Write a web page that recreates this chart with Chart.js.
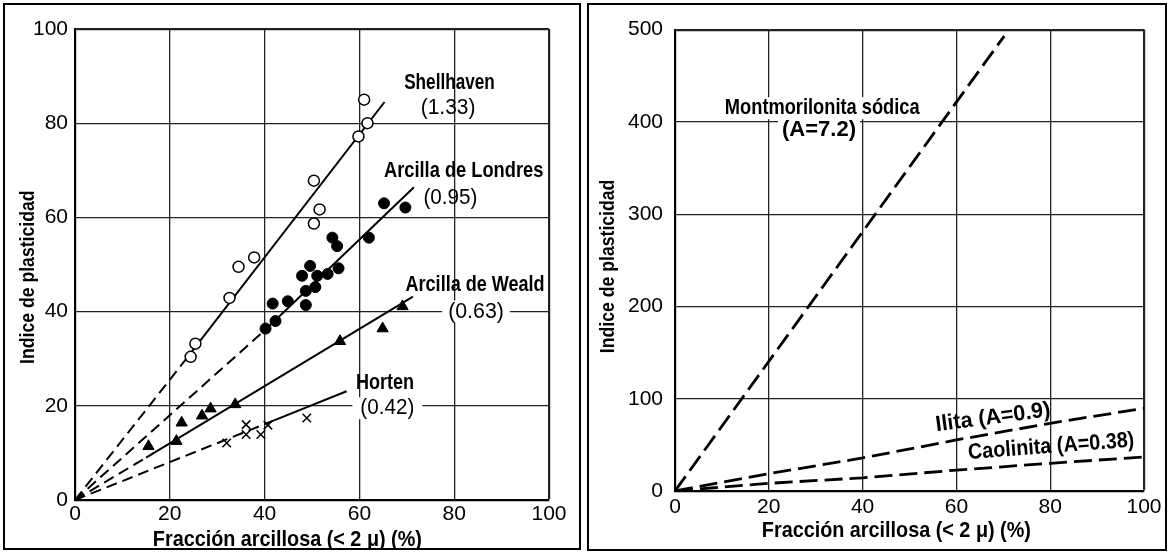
<!DOCTYPE html>
<html lang="es">
<head>
<meta charset="UTF-8">
<title>Indice de plasticidad - Fracción arcillosa</title>
<script src="https://cdn.jsdelivr.net/npm/chart.js"></script>
<style>
  body { margin: 0; background: #fff; width: 1170px; height: 553px; position: relative; overflow: hidden; }
  .panel { position: absolute; border: 2px solid #000; background: #fff; }
  #left { left: 3px; top: 3px; width: 574px; height: 543px; }
  #right { left: 587px; top: 3px; width: 576px; height: 544px; }
  canvas { display: block; }
</style>
</head>
<body>
<div class="panel" id="left"><canvas id="leftChart" width="574" height="543"></canvas></div>
<div class="panel" id="right"><canvas id="rightChart" width="576" height="544"></canvas></div>
<script>
// ---- data ----
const xTicks = [0, 20, 40, 60, 80, 100];
const yTicksLeft = [0, 20, 40, 60, 80, 100];
const yTicksRight = [0, 100, 200, 300, 400, 500];

// Shellhaven (open circles)
const shellX = [24.4, 25.4, 32.6, 34.5, 37.8, 50.4, 50.4, 51.6, 59.8, 61.7, 61.0];
const shellY = [30.4, 33.2, 42.9, 49.5, 51.5, 67.8, 58.7, 61.7, 77.2, 80.0, 85.0];
// Arcilla de Londres (filled circles)
const londresX = [40.2, 42.3, 41.7, 44.9, 47.9, 49.6, 48.7, 48.7, 50.7, 51.1, 53.3, 54.3, 55.3, 55.6, 62.0, 65.2, 69.7];
const londresY = [36.4, 38.0, 41.7, 42.2, 47.6, 49.7, 44.4, 41.4, 45.2, 47.6, 48.0, 55.7, 53.9, 49.2, 55.7, 63.0, 62.1];
// Arcilla de Weald (triangles)
const wealdX = [15.5, 21.4, 22.5, 26.8, 28.6, 33.8, 55.9, 64.9, 69.1];
const wealdY = [11.4, 12.5, 16.4, 17.9, 19.4, 20.3, 33.7, 36.4, 41.1];
// Horten (crosses)
const hortenX = [32.0, 36.1, 36.1, 39.2, 40.7, 48.9];
const hortenY = [12.1, 16.0, 13.9, 13.9, 15.9, 17.4];

// trend lines: dashed part near the origin, solid part over the data
const shellDashX = [0, 23.5], shellDashY = [0, 30];
const shellLineX = [23.5, 65.3], shellLineY = [30, 84.5];
const londresDashX = [0, 40], londresDashY = [0, 36];
const londresLineX = [40, 71.5], londresLineY = [36, 66.4];
const wealdDashX = [0, 15], wealdDashY = [0, 9];
const wealdLineX = [15, 71.3], wealdLineY = [9, 43.2];
const hortenDashX = [0, 42], hortenDashY = [0, 16.9];
const hortenLineX = [42, 57.3], hortenLineY = [16.9, 23.1];

// right panel minerals
const montX = [0, 70.2], montY = [0, 493];
const ilitaX = [0, 20, 40, 60, 80, 100], ilitaY = [0, 18.8, 35.8, 55.3, 73.4, 89.6];
const caolX = [0, 20, 40, 60, 80, 100], caolY = [0, 8.3, 14.3, 22.6, 30, 36.9];

const pts = (xs, ys) => xs.map((v, i) => ({x: v, y: ys[i]}));

const family = '"Liberation Sans", Arial, sans-serif';
const fontOf = l => (l.bold === false ? '' : 'bold ') + (l.size || 22) + 'px ' + family;

// text squeezed horizontally to imitate the condensed typeface of the figure
function squeezedText(ctx, l, px, py, rot) {
  ctx.save();
  ctx.font = fontOf(l);
  ctx.translate(px, py);
  if (rot) ctx.rotate(rot);
  ctx.scale(l.sq || 1, 1);
  ctx.fillText(l.text, 0, 0);
  ctx.restore();
}

// draws the free text labels and axis titles
const textPlugin = {
  id: 'texts',
  beforeDatasetsDraw(chart, args, opts) {
    const {ctx, scales: {x, y}} = chart;
    ctx.save();
    opts.labels.forEach(l => {
      if (!l.gap) return;
      ctx.font = fontOf(l);
      const w = ctx.measureText(l.text).width * (l.sq || 1);
      const px = x.getPixelForValue(l.x), py = y.getPixelForValue(l.y);
      ctx.fillStyle = '#fff';
      ctx.fillRect(px - w / 2 - l.gap, py - 11, w + 2 * l.gap, 22);
    });
    ctx.restore();
  },
  afterDatasetsDraw(chart, args, opts) {
    const {ctx, chartArea, scales: {x, y}} = chart;
    ctx.save();
    ctx.fillStyle = '#000';
    ctx.textAlign = 'center';
    ctx.textBaseline = 'middle';
    opts.labels.forEach(l => {
      squeezedText(ctx, l, x.getPixelForValue(l.x), y.getPixelForValue(l.y), l.angle ? -l.angle * Math.PI / 180 : 0);
    });
    const t = opts.titles;
    squeezedText(ctx, t.x, x.getPixelForValue(t.x.at), chartArea.bottom + t.x.offset, 0);
    squeezedText(ctx, t.y, chartArea.left - t.y.offset, y.getPixelForValue(t.y.at), -Math.PI / 2);
    ctx.restore();
  }
};

function makeScales(yTicks, yMax, yWidth, xHeight, xPad, yPad) {
  const edge = max => c => (c.tick && c.tick.value === max ? 2.2 : 1.3);
  return {
    x: {
      type: 'linear', min: 0, max: 100,
      afterBuildTicks: s => { s.ticks = xTicks.map(v => ({value: v})); },
      afterFit: s => { s.height = xHeight; },
      ticks: {color: '#000', font: {family: family, size: 21}, padding: xPad},
      grid: {color: '#222', lineWidth: edge(100), drawTicks: false},
      border: {color: '#000', width: 2.2}
    },
    y: {
      type: 'linear', min: 0, max: yMax,
      afterBuildTicks: s => { s.ticks = yTicks.map(v => ({value: v})); },
      afterFit: s => { s.width = yWidth; },
      ticks: {color: '#000', font: {family: family, size: 21}, padding: yPad},
      grid: {color: '#222', lineWidth: edge(yMax), drawTicks: false},
      border: {color: '#000', width: 2.2}
    }
  };
}

const line = (xs, ys, dash, width) => ({
  type: 'scatter', data: pts(xs, ys), showLine: true, fill: false,
  borderColor: '#000', borderWidth: width || 2, borderDash: dash || [],
  pointRadius: 0, pointHoverRadius: 0
});

const leftDash = [11, 6];
const rightDash = [18, 7];

new Chart(document.getElementById('leftChart'), {
  type: 'scatter',
  data: {
    datasets: [
      {label: 'Shellhaven', data: pts(shellX, shellY), pointStyle: 'circle', pointRadius: 5.5,
       backgroundColor: '#fff', borderColor: '#000', borderWidth: 1.5},
      {label: 'Arcilla de Londres', data: pts(londresX, londresY), pointStyle: 'circle', pointRadius: 5.5,
       backgroundColor: '#000', borderColor: '#000', borderWidth: 1},
      {label: 'Arcilla de Weald', data: pts(wealdX, wealdY), pointStyle: 'triangle', pointRadius: 6.5,
       backgroundColor: '#000', borderColor: '#000', borderWidth: 1},
      {label: 'Horten', data: pts(hortenX, hortenY), pointStyle: 'crossRot', pointRadius: 6,
       borderColor: '#000', borderWidth: 1.5},
      line(shellDashX, shellDashY, leftDash),
      line(shellLineX, shellLineY),
      line(londresDashX, londresDashY, leftDash),
      line(londresLineX, londresLineY),
      line(wealdDashX, wealdDashY, leftDash),
      line(wealdLineX, wealdLineY),
      line(hortenDashX, hortenDashY, leftDash),
      line(hortenLineX, hortenLineY)
    ]
  },
  options: {
    responsive: false, animation: false, devicePixelRatio: 1,
    layout: {padding: {top: 24, right: 30, left: 0, bottom: 0}},
    scales: makeScales(yTicksLeft, 100, 70, 48, 2, 7),
    plugins: {
      legend: {display: false}, tooltip: {enabled: false},
      texts: {
        labels: [
          {text: 'Shellhaven', x: 79.0, y: 88.6, sq: 0.78},
          {text: '(1.33)', x: 78.7, y: 83.2, bold: false, sq: 0.95},
          {text: 'Arcilla de Londres', x: 82.0, y: 69.9, sq: 0.83},
          {text: '(0.95)', x: 79.2, y: 64.2, bold: false, sq: 0.94},
          {text: 'Arcilla de Weald', x: 84.4, y: 45.6, sq: 0.82},
          {text: '(0.63)', x: 84.6, y: 40.0, bold: false, sq: 0.97, gap: 6},
          {text: 'Horten', x: 65.4, y: 24.9, sq: 0.82},
          {text: '(0.42)', x: 65.9, y: 19.5, bold: false, sq: 0.94, gap: 8}
        ],
        titles: {
          x: {text: 'Fracción arcillosa (< 2 μ) (%)', at: 44.8, offset: 40, sq: 0.9},
          y: {text: 'Indice de plasticidad', at: 47.3, offset: 47, size: 21, sq: 0.84}
        }
      }
    }
  },
  plugins: [textPlugin]
});

new Chart(document.getElementById('rightChart'), {
  type: 'scatter',
  data: {
    datasets: [
      line(montX, montY, rightDash, 2.8),
      line(ilitaX, ilitaY, rightDash, 2.8),
      line(caolX, caolY, rightDash, 2.8)
    ]
  },
  options: {
    responsive: false, animation: false, devicePixelRatio: 1,
    layout: {padding: {top: 18, right: 17, left: 0, bottom: 0}},
    scales: makeScales(yTicksRight, 500, 86, 58, 3.5, 12),
    plugins: {
      legend: {display: false}, tooltip: {enabled: false},
      texts: {
        labels: [
          {text: 'Montmorilonita sódica', x: 31.4, y: 414.8, sq: 0.83, gap: 22},
          {text: '(A=7.2)', x: 30.7, y: 390.8, gap: 4},
          {text: 'Ilita (A=0.9)', x: 67.8, y: 79.5, angle: 7.5, sq: 0.98},
          {text: 'Caolinita (A=0.38)', x: 80.2, y: 48, angle: 4.3, sq: 0.9}
        ],
        titles: {
          x: {text: 'Fracción arcillosa (< 2 μ) (%)', at: 47.2, offset: 40, sq: 0.9},
          y: {text: 'Indice de plasticidad', at: 243.4, offset: 66.5, size: 21, sq: 0.84}
        }
      }
    }
  },
  plugins: [textPlugin]
});
</script>
</body>
</html>
